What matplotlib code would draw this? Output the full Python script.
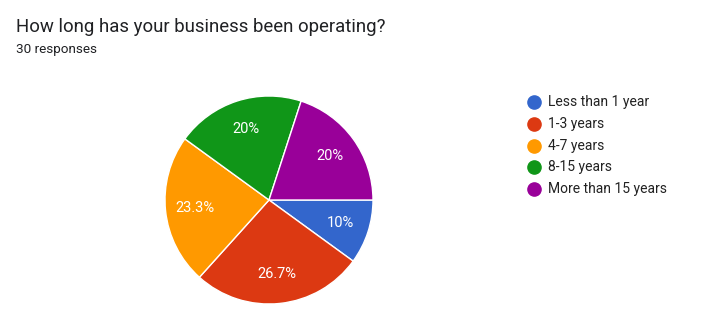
import matplotlib
matplotlib.use('Agg')
import matplotlib.pyplot as plt
from matplotlib.lines import Line2D

plt.rcParams['font.family'] = ['Roboto', 'DejaVu Sans']

# data
labels = ['Less than 1 year', '1-3 years', '4-7 years', '8-15 years', 'More than 15 years']
counts = [3, 8, 7, 6, 6]
colors = ['#3366cc', '#dc3912', '#ff9900', '#109618', '#990099']
title = 'How long has your business been operating?'
subtitle = '30 responses'

W, H = 726, 321
fig = plt.figure(figsize=(W / 100, H / 100), dpi=100)
fig.patch.set_facecolor('white')

# pie axes, pixel based placement
cx, cy, r = 269, 200, 104
ax = fig.add_axes([(cx - r) / W, (H - cy - r) / H, 2 * r / W, 2 * r / H])

def fmt(p):
    s = '{:.1f}'.format(p)
    if s.endswith('.0'):
        s = s[:-2]
    return s + '%'

wedges, texts, autotexts = ax.pie(counts, colors=colors, startangle=0, counterclock=False,
                                  radius=1, autopct=fmt, pctdistance=0.72,
                                  wedgeprops=dict(edgecolor='white', linewidth=1),
                                  textprops=dict(color='white', fontsize=10.5))
ax.set_xlim(-1, 1)
ax.set_ylim(-1, 1)
ax.set_aspect('equal')
ax.axis('off')

fig.text(16 / W, 1 - 27 / H, title, fontsize=13.4, color='#202124', va='center', ha='left')
fig.text(16 / W, 1 - 50 / H, subtitle, fontsize=9.7, color='#202124', va='center', ha='left')

# legend drawn by hand
lx, ly0, dy = 534, 102, 21.8
for i, (lab, c) in enumerate(zip(labels, colors)):
    y = 1 - (ly0 + i * dy) / H
    fig.add_artist(Line2D([lx / W], [y], marker='o', markersize=9.5, color=c,
                          linestyle='none', transform=fig.transFigure))
    fig.text(548 / W, y, lab, fontsize=10, color='#222222', va='center', ha='left')

fig.savefig('out.png', dpi=100)
